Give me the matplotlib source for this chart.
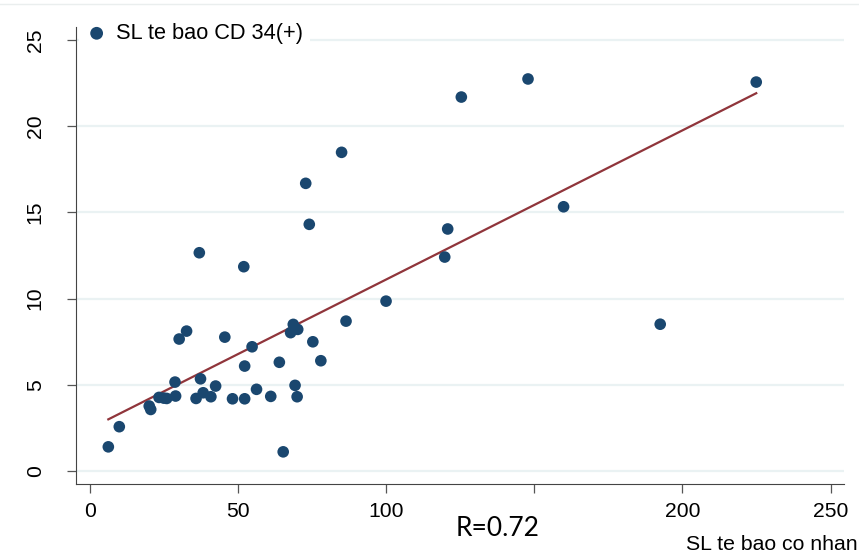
import numpy as np
import matplotlib
matplotlib.use("Agg")
import matplotlib.pyplot as plt
from matplotlib.lines import Line2D

# SL te bao co nhan (x) vs SL te bao CD 34(+) (y)
coNhan = [6.3, 10.0, 20.1, 20.6, 23.4, 25.0, 26.0, 28.8, 29.0, 30.2, 32.7,
          35.9, 37.4, 38.3, 40.9, 42.5, 45.6, 48.2, 52.3, 52.3, 54.8, 56.3,
          61.1, 64.0, 65.3, 67.8, 68.7, 70.2, 69.3, 70.0, 75.3, 78.0, 86.5,
          100.0, 37.0, 52.0, 72.9, 74.1, 85.0, 119.8, 120.8, 125.4, 147.9,
          159.9, 192.5, 224.9]
cd34 = [1.39, 2.56, 3.76, 3.56, 4.26, 4.22, 4.20, 5.15, 4.34, 7.65, 8.11,
        4.20, 5.34, 4.53, 4.30, 4.92, 7.76, 4.18, 6.08, 4.18, 7.20, 4.73,
        4.32, 6.30, 1.10, 8.02, 8.50, 8.21, 4.96, 4.30, 7.49, 6.39, 8.69,
        9.85, 12.66, 11.85, 16.69, 14.31, 18.49, 12.41, 14.04, 21.70, 22.75,
        15.33, 8.51, 22.57]

xticks = [0, 50, 100, 150, 200, 250]
# the 150 label is hidden under the R box in the original
xticklabels = ['0', '50', '100', '', '200', '250']
yticks = [0, 5, 10, 15, 20, 25]

x = np.array(coNhan)
y = np.array(cd34)
b, a = np.polyfit(x, y, 1)
xfit = np.array([x.min(), x.max()])
yfit = a + b * xfit

plt.rcParams['font.family'] = ['Liberation Sans', 'DejaVu Sans']

fig = plt.figure(figsize=(8.59, 5.57), dpi=100)
ax = fig.add_axes([0.0885, 0.1316, 0.894, 0.82])

for t in yticks:
    ax.axhline(t, color='#eaf2f3', lw=1.6, zorder=0)

ax.scatter(x, y, s=70, color='#1a476f', edgecolors='none', zorder=3,
           label='SL te bao CD 34(+)')
ax.plot(xfit, yfit, color='#90353b', lw=1.6, zorder=2)

ax.set_xlim(-4.6, 254.5)
ax.set_ylim(-0.75, 25.77)
ax.set_xticks(xticks)
ax.set_xticklabels(xticklabels)
ax.set_yticks(yticks)
ax.tick_params(axis='both', direction='out', length=6.5, width=0.9,
               color='#555555', labelsize=15.2)
ax.tick_params(axis='x', pad=7)
ax.tick_params(axis='y', pad=16)
for lab in ax.get_yticklabels():
    lab.set_rotation(90)
    lab.set_va('center')
ax.spines['top'].set_visible(False)
ax.spines['right'].set_visible(False)
ax.spines['left'].set_color('#444444')
ax.spines['bottom'].set_color('#444444')

leg = ax.legend(loc='upper left', bbox_to_anchor=(0.0795, 0.99),
                bbox_transform=fig.transFigure, frameon=True, fontsize=15.7,
                handletextpad=0.4, borderpad=0.3, handlelength=1.0,
                markerscale=1.1)
leg.get_frame().set_edgecolor('none')
leg.get_frame().set_facecolor('white')
leg.get_frame().set_alpha(1)
leg.set_zorder(5)

fig.text(0.998, 0.023, 'SL te bao co nhan', ha='right', va='center',
         fontsize=15.3)
fig.text(0.579, 0.052, 'R=0.72', ha='center', va='center', fontsize=19,
         family=['Lato', 'DejaVu Sans'])

fig.add_artist(Line2D([0, 1], [1 - 4 / 557, 1 - 4 / 557],
                      transform=fig.transFigure, color='#eaeeee', lw=1))

fig.savefig('out.png', dpi=100)
